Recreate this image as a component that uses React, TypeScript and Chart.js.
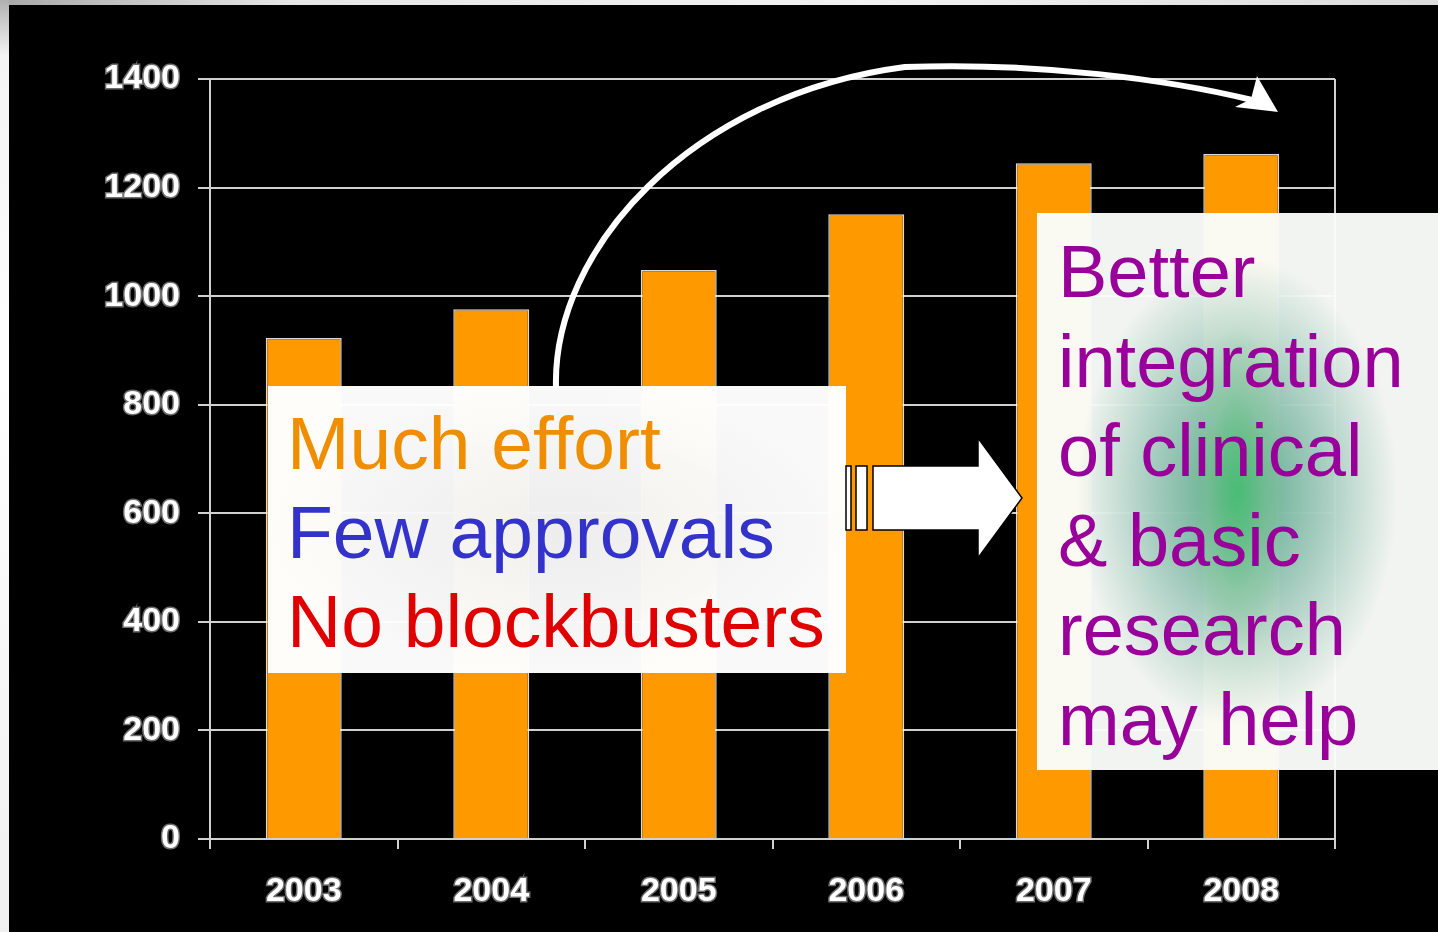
import React, { useEffect, useRef } from "react";
import { Chart, registerables } from "chart.js";

Chart.register(...registerables);

const years = ["2003", "2004", "2005", "2006", "2007", "2008"];
const counts = [923, 976, 1048, 1151, 1245, 1262];
const yTicks = [0, 200, 400, 600, 800, 1000, 1200, 1400];
const leftLines = [
  { text: "Much effort", color: "#EE8E00" },
  { text: "Few approvals", color: "#3333CC" },
  { text: "No blockbusters", color: "#E00000" },
];
const rightLines = ["Better", "integration", "of clinical", "& basic", "research", "may help"];

const W = 1438;
const H = 932;

const framePlugin = {
  id: "frameRight",
  afterDraw(chart: any) {
    const { ctx, chartArea } = chart;
    ctx.save();
    ctx.strokeStyle = "#d0d0d0";
    ctx.lineWidth = 2;
    ctx.beginPath();
    ctx.moveTo(chartArea.right, chartArea.top);
    ctx.lineTo(chartArea.right, chartArea.bottom);
    ctx.stroke();
    ctx.restore();
  },
};

export default function App() {
  const canvasRef = useRef<HTMLCanvasElement | null>(null);

  useEffect(() => {
    const canvas = canvasRef.current;
    if (!canvas) return;
    const tickFont = { family: "'Liberation Sans', Arial, sans-serif", weight: "bold" as const, size: 34 };
    const chart = new Chart(canvas, {
      type: "bar",
      data: {
        labels: years,
        datasets: [
          {
            data: counts,
            backgroundColor: "#FF9900",
            borderColor: "rgba(255,255,255,0.85)",
            borderWidth: 1.5,
            categoryPercentage: 1,
            barPercentage: 0.405,
          },
        ],
      },
      options: {
        animation: false,
        responsive: false,
        devicePixelRatio: 1,
        layout: { padding: { left: 0, top: 79, right: W - 1335, bottom: 0 } },
        plugins: { legend: { display: false }, tooltip: { enabled: false } },
        scales: {
          x: {
            offset: true,
            grid: {
              display: true,
              offset: true,
              drawOnChartArea: false,
              drawTicks: true,
              tickLength: 10,
              color: "#d0d0d0",
              lineWidth: 2,
            },
            border: { color: "#d0d0d0", width: 2 },
            ticks: {
              color: "#ffffff",
              font: tickFont,
              padding: 22,
              textStrokeColor: "rgba(120,120,120,0.9)",
              textStrokeWidth: 3,
            } as any,
            afterFit: (s: any) => {
              s.height = H - 839;
            },
          },
          y: {
            min: 0,
            max: 1400,
            afterBuildTicks: (s: any) => {
              s.ticks = yTicks.map((v) => ({ value: v }));
            },
            grid: { color: "#d0d0d0", lineWidth: 2, tickLength: 12 },
            border: { color: "#d0d0d0", width: 2 },
            ticks: {
              color: "#ffffff",
              font: tickFont,
              padding: 18,
              textStrokeColor: "rgba(120,120,120,0.9)",
              textStrokeWidth: 3,
              callback: (v: any) => String(v),
            } as any,
            afterFit: (s: any) => {
              s.width = 210;
            },
          },
        },
      },
      plugins: [framePlugin],
    });
    return () => chart.destroy();
  }, []);

  const textFont = "'Liberation Sans', Arial, sans-serif";

  return (
    <div
      style={{
        position: "absolute",
        left: 0,
        top: 0,
        width: W,
        height: H,
        overflow: "hidden",
        background: "linear-gradient(to right, #a8a8a8 0%, #e6e6e6 20%, #f2f2f2 60%, #dcdcdc 100%)",
      }}
    >
      <div
        style={{
          position: "absolute",
          left: 0,
          top: 0,
          width: 9,
          height: H,
          background: "linear-gradient(to bottom, #b0b0b0 0%, #f4f4f4 6%, #ffffff 40%, #f0f0f0 100%)",
        }}
      />
      <div style={{ position: "absolute", left: 9, top: 5, right: 0, bottom: 0, background: "#000" }} />
      <canvas
        ref={canvasRef}
        width={W}
        height={H}
        style={{ position: "absolute", left: 0, top: 0, width: W, height: H }}
      />
      <div
        style={{
          position: "absolute",
          left: 268,
          top: 386,
          width: 578,
          height: 287,
          boxSizing: "border-box",
          paddingTop: 13,
          paddingLeft: 19,
          background:
            "radial-gradient(ellipse 50% 50% at 50% 50%, rgba(200,200,200,0.25) 0%, rgba(255,255,255,0) 100%), rgba(255,255,255,0.975)",
          fontFamily: textFont,
          fontSize: 75,
          lineHeight: "89px",
          whiteSpace: "nowrap",
        }}
      >
        {leftLines.map((l) => (
          <div key={l.text} style={{ color: l.color }}>
            {l.text}
          </div>
        ))}
      </div>
      <div
        style={{
          position: "absolute",
          left: 1037,
          top: 213,
          width: W - 1037,
          height: 557,
          boxSizing: "border-box",
          paddingTop: 14,
          paddingLeft: 21,
          background:
            "radial-gradient(ellipse 12% 30% at 50% 50%, rgba(70,195,110,0.75) 0%, rgba(120,200,140,0.35) 60%, rgba(255,255,255,0) 100%), radial-gradient(ellipse 40% 42% at 50% 50%, rgba(30,140,100,0.75) 0%, rgba(60,150,120,0.45) 50%, rgba(255,255,255,0) 100%), rgba(250,252,250,0.97)",
          fontFamily: textFont,
          fontSize: 74,
          lineHeight: "89.6px",
          color: "#990099",
          whiteSpace: "nowrap",
        }}
      >
        {rightLines.map((t) => (
          <div key={t}>{t}</div>
        ))}
      </div>
      <svg
        width={W}
        height={H}
        style={{ position: "absolute", left: 0, top: 0, pointerEvents: "none" }}
      >
        <path
          d="M 556 388 C 552 250, 690 95, 905 67 C 1040 62, 1170 80, 1252 100"
          fill="none"
          stroke="#ffffff"
          strokeWidth={6}
        />
        <polygon points="1278,112 1257,76 1251,99 1235,107" fill="#ffffff" />
        <g stroke="#000" strokeWidth={1.5} fill="#ffffff">
          <rect x={846} y={466} width={5} height={64} />
          <rect x={856} y={466} width={11} height={64} />
          <polygon points="873,466 978,466 978,438 1022,498 978,558 978,530 873,530" />
        </g>
      </svg>
    </div>
  );
}
